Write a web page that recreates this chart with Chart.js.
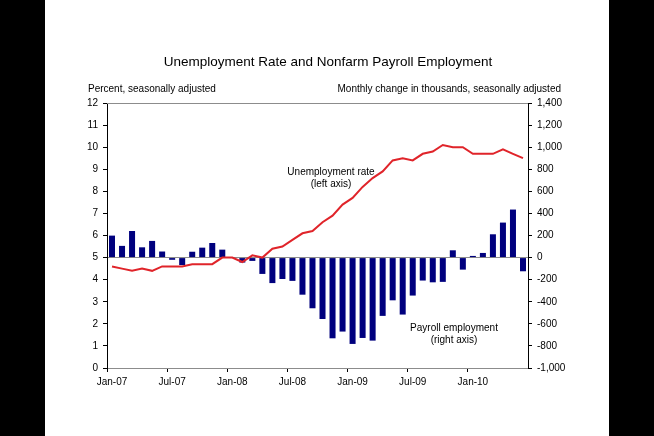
<!DOCTYPE html>
<html>
<head>
<meta charset="utf-8">
<script src="https://cdn.jsdelivr.net/npm/chart.js@4/dist/chart.umd.min.js"></script>
<style>
html,body{margin:0;padding:0;background:#000;width:654px;height:436px;overflow:hidden;}
#wrap{position:absolute;left:45px;top:0;width:564px;height:436px;background:#fff;}
canvas{display:block;}
</style>
</head>
<body>
<div id="wrap"><canvas id="c" width="564" height="436"></canvas></div>
<script>
const months = ['Jan-07','Feb-07','Mar-07','Apr-07','May-07','Jun-07','Jul-07','Aug-07','Sep-07','Oct-07','Nov-07','Dec-07',
'Jan-08','Feb-08','Mar-08','Apr-08','May-08','Jun-08','Jul-08','Aug-08','Sep-08','Oct-08','Nov-08','Dec-08',
'Jan-09','Feb-09','Mar-09','Apr-09','May-09','Jun-09','Jul-09','Aug-09','Sep-09','Oct-09','Nov-09','Dec-09',
'Jan-10','Feb-10','Mar-10','Apr-10','May-10','Jun-10'];

const unemploymentRate = [4.6,4.5,4.4,4.5,4.4,4.6,4.6,4.6,4.7,4.7,4.7,5.0,
5.0,4.8,5.1,5.0,5.4,5.5,5.8,6.1,6.2,6.6,6.9,7.4,
7.7,8.2,8.6,8.9,9.4,9.5,9.4,9.7,9.8,10.1,10.0,10.0,
9.7,9.7,9.7,9.9,9.7,9.5];

const payrollChange = [199,106,241,93,151,55,-20,-68,53,90,132,72,
-5,-45,-30,-148,-231,-194,-211,-336,-459,-556,-731,-670,
-782,-728,-752,-528,-387,-516,-344,-208,-224,-220,66,-109,
15,42,211,317,435,-124];

const leftTicks = {min:0, max:12, step:1};
const rightTicks = {min:-1000, max:1400, step:200};

const titleText = 'Unemployment Rate and Nonfarm Payroll Employment';
const leftAxisTitle = 'Percent, seasonally adjusted';
const rightAxisTitle = 'Monthly change in thousands, seasonally adjusted';
const lineLabel = ['Unemployment rate','(left axis)'];
const barLabel = ['Payroll employment','(right axis)'];

const FONT = '"Liberation Sans", Arial, sans-serif';
const OX = 45;

const textPlugin = {
  id:'texts',
  afterDraw(chart){
    const ctx = chart.ctx;
    const ca = chart.chartArea;
    ctx.save();
    ctx.strokeStyle = '#8c8c8c';
    ctx.lineWidth = 1;
    ctx.beginPath();
    ctx.moveTo(ca.left, Math.round(ca.top)+0.5);
    ctx.lineTo(ca.right, Math.round(ca.top)+0.5);
    ctx.stroke();
    ctx.fillStyle = '#000';
    ctx.textBaseline = 'middle';
    ctx.font = '13.5px ' + FONT;
    ctx.textAlign = 'center';
    ctx.fillText(titleText, 328-OX, 62);
    ctx.font = '10px ' + FONT;
    ctx.textAlign = 'left';
    ctx.fillText(leftAxisTitle, 88-OX, 89);
    ctx.textAlign = 'right';
    ctx.fillText(rightAxisTitle, 561-OX, 89);
    ctx.textAlign = 'center';
    ctx.fillText(lineLabel[0], 331-OX, 172);
    ctx.fillText(lineLabel[1], 331-OX, 184);
    ctx.fillText(barLabel[0], 454-OX, 328);
    ctx.fillText(barLabel[1], 454-OX, 340);
    ctx.restore();
  }
};

new Chart(document.getElementById('c'), {
  type:'bar',
  data:{
    labels: months,
    datasets:[
      {type:'line', label:'Unemployment rate', data: unemploymentRate, yAxisID:'y',
       borderColor:'#e0242a', borderWidth:2, pointRadius:0, tension:0, order:0, fill:false},
      {type:'bar', label:'Payroll employment', data: payrollChange, yAxisID:'y2',
       backgroundColor:'#00007e', borderWidth:0, barPercentage:0.6, categoryPercentage:1.0, order:1}
    ]
  },
  options:{
    responsive:false,
    animation:false,
    devicePixelRatio:1,
    layout:{padding:{top:103,left:0,right:0,bottom:0}},
    plugins:{legend:{display:false}, tooltip:{enabled:false}, title:{display:false}},
    scales:{
      x:{
        type:'category',
        offset:true,
        afterFit(s){ s.height = 68; },
        grid:{offset:true, drawOnChartArea:false, tickLength:4,
          tickColor:(c)=> (c.index % 6 === 0) ? '#000' : 'rgba(0,0,0,0)'},
        border:{color:'#8c8c8c', width:1},
        ticks:{autoSkip:false, maxRotation:0, minRotation:0, padding:4, color:'#000',
          font:{family:FONT, size:10},
          callback:function(v,i){ return i % 6 === 0 ? this.getLabelForValue(v) : ''; }}
      },
      y:{
        position:'left',
        min:leftTicks.min, max:leftTicks.max,
        afterFit(s){ s.width = 62; },
        grid:{drawOnChartArea:false, tickLength:4, tickColor:'#000'},
        border:{color:'#000', width:1},
        ticks:{stepSize:leftTicks.step, padding:5, color:'#000', font:{family:FONT, size:10}}
      },
      y2:{
        position:'right',
        min:rightTicks.min, max:rightTicks.max,
        afterFit(s){ s.width = 81; },
        grid:{drawOnChartArea:true, tickLength:4, tickColor:'#000',
          color:(c)=> (c.tick && c.tick.value === 0) ? '#8c8c8c' : 'rgba(0,0,0,0)'},
        border:{color:'#000', width:1},
        ticks:{stepSize:rightTicks.step, padding:5, color:'#000', font:{family:FONT, size:10},
          callback:(v)=> v.toLocaleString('en-US')}
      }
    }
  },
  plugins:[textPlugin]
});
</script>
</body>
</html>
